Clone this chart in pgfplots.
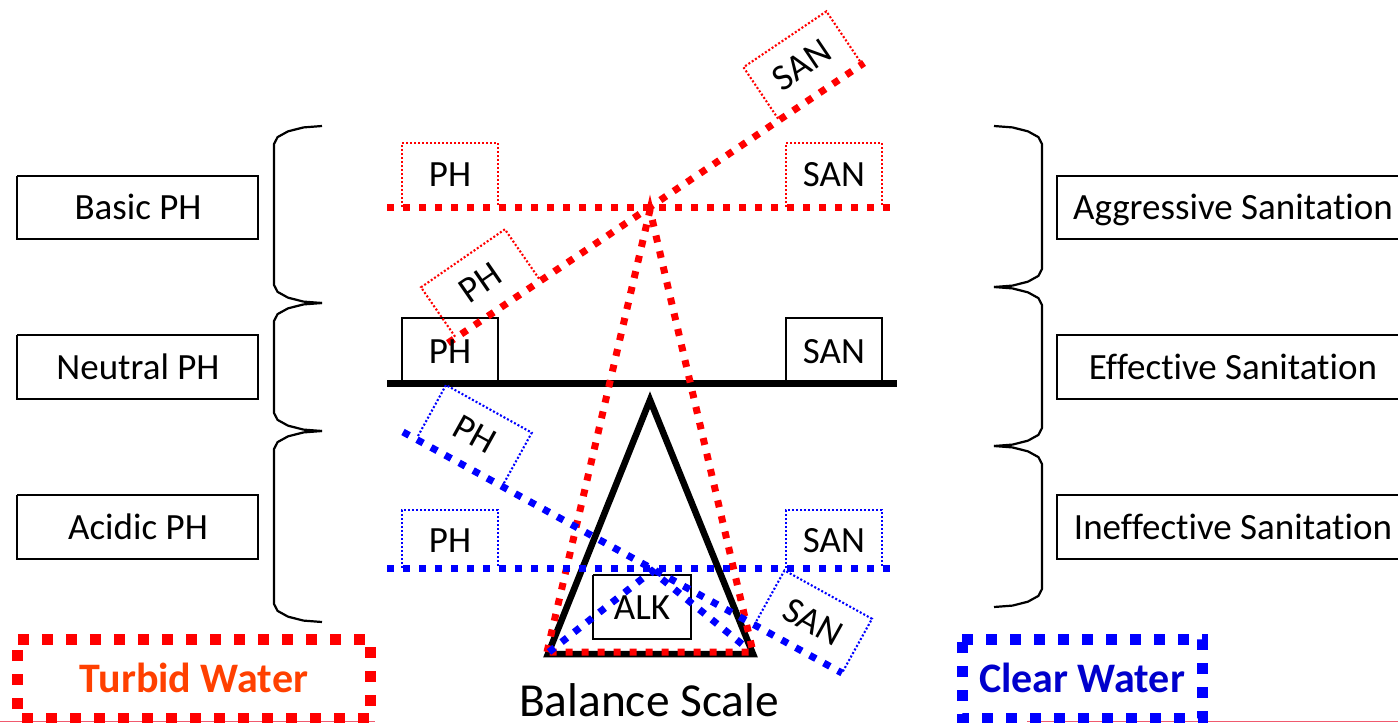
\documentclass[border=0pt]{standalone}
\usepackage{fontspec}
\setmainfont{Carlito}[Ligatures=NoCommon]
\usepackage{pgfplots}
\pgfplotsset{compat=1.18}
\definecolor{myred}{RGB}{255,0,0}
\definecolor{myblue}{RGB}{0,0,255}
\definecolor{turbid}{RGB}{255,64,0}
\definecolor{clearw}{RGB}{0,0,204}
\definecolor{pinkline}{RGB}{240,90,110}
\tikzset{
  thickdot/.style={line width=3.5pt, dash pattern=on 3.5pt off 4.5pt, line cap=butt},
  bigdot/.style={line width=5.5pt, dash pattern=on 5.5pt off 6.5pt, line cap=butt},
  thindot/.style={line width=1.05pt, dash pattern=on 1pt off 1pt, line cap=butt},
  brace/.style={black, line width=1.1pt, line join=round},
  lbl/.style={font=\fontsize{18.5}{20}\selectfont, anchor=base, inner sep=0pt},
  rlbl/.style={font=\fontsize{18.5}{20}\selectfont, anchor=center, inner sep=0pt},
}
\begin{document}
\begin{tikzpicture}
\useasboundingbox (0,0) rectangle (699pt,361.5pt);
\clip (0,0) rectangle (699pt,361.5pt);
\begin{axis}[
  at={(0,0)}, anchor=south west,
  width=699pt, height=361.5pt, scale only axis,
  xmin=0, xmax=1398, ymin=0, ymax=723, y dir=reverse,
  hide axis, clip=false,
]
% bottom thin line
\addplot[pinkline, line width=0.8pt] coordinates {(0,721.5) (375,721.5)};
\addplot[pinkline, line width=0.8pt] coordinates {(1027,721.5) (1398,721.5)};
% left braces
\addplot[brace] coordinates {(322,126) (303.6,127.4) (288.1,131.3) (277.6,137.1) (274,144) (274,285) (277.6,291.9) (288.1,297.7) (303.6,301.6) (322,303)};
\addplot[brace] coordinates {(322,303) (303.6,304.4) (288.1,308.3) (277.6,314.1) (274,321) (274,413) (277.6,419.9) (288.1,425.7) (303.6,429.6) (322,431)};
\addplot[brace] coordinates {(322,431) (303.6,432.4) (288.1,436.3) (277.6,442.1) (274,449) (274,604) (277.6,610.9) (288.1,616.7) (303.6,620.6) (322,622)};
% right braces
\addplot[brace] coordinates {(994,126) (1012.4,127.4) (1027.9,131.3) (1038.4,137.1) (1042,144) (1042,269) (1038.4,275.9) (1027.9,281.7) (1012.4,285.6) (994,287)};
\addplot[brace] coordinates {(994,287) (1012.4,288.4) (1027.9,292.3) (1038.4,298.1) (1042,305) (1042,428) (1038.4,434.9) (1027.9,440.7) (1012.4,444.6) (994,446)};
\addplot[brace] coordinates {(994,446) (1012.4,447.4) (1027.9,451.3) (1038.4,457.1) (1042,464) (1042,589) (1038.4,595.9) (1027.9,601.7) (1012.4,605.6) (994,607)};
% left boxes
\addplot[black, line width=1.2pt] coordinates {(17,176) (258,176) (258,239) (17,239) (17,176)};
\addplot[black, line width=1.2pt] coordinates {(17,335) (258,335) (258,399) (17,399) (17,335)};
\addplot[black, line width=1.2pt] coordinates {(17,495) (258,495) (258,559) (17,559) (17,495)};
% right boxes
\addplot[black, line width=1.2pt] coordinates {(1420,176) (1057,176) (1057,239) (1420,239)};
\addplot[black, line width=1.2pt] coordinates {(1420,335) (1057,335) (1057,399) (1420,399)};
\addplot[black, line width=1.2pt] coordinates {(1420,495) (1057,495) (1057,559) (1420,559)};
% water boxes
\addplot[myred, bigdot] coordinates {(18,639) (370,639) (370,718) (18,718) (18,639)};
\addplot[myblue, bigdot] coordinates {(962,639) (1202,639) (1202,718) (962,718) (962,639)};
% black scale
\addplot[black, line width=3.5pt] coordinates {(387,383) (897,383)};
\addplot[black, line width=3.25pt, line join=miter] coordinates {(548,654) (650,400) (753,654) (548,654)} -- cycle;
\addplot[black, line width=1.1pt] coordinates {(593,575) (691,575) (691,639) (593,639) (593,575)};
\addplot[black, line width=1.2pt] coordinates {(402,380) (402,318) (498,318) (498,380)};
\addplot[black, line width=1.2pt] coordinates {(786,380) (786,318) (882,318) (882,380)};
% thin dotted boxes red
\addplot[myred, thindot] coordinates {(402,207) (402,143) (498,143) (498,207)};
\addplot[myred, thindot] coordinates {(786,207) (786,143) (882,143) (882,207)};
\addplot[myred, thindot] coordinates {(455.1,336.7) (421.0,287.3) (504.9,229.3) (539.0,278.7)};
\addplot[myred, thindot] coordinates {(778.1,118.7) (743.5,67.25) (826.4,11.35) (861.0,62.75)};
% thin dotted boxes blue
\addplot[myblue, thindot] coordinates {(402,568) (402,510) (498,510) (498,568)};
\addplot[myblue, thindot] coordinates {(786,568) (786,510) (882,510) (882,568)};
\addplot[myblue, thindot] coordinates {(418,436) (446,385) (531.8,432.7) (503.8,483.4)};
\addplot[myblue, thindot] coordinates {(754.5,624.6) (784.5,570.4) (872,618.8) (842,673)};
% red thick dotted
\addplot[myred, thickdot] coordinates {(387,207) (890,207)};
\addplot[myred, thickdot] coordinates {(448,343) (864,63)};
\addplot[myred, thickdot] coordinates {(547,652) (650,210) (753,652) (547,652)};
% blue thick dotted
\addplot[myblue, thickdot] coordinates {(387,568) (890,568)};
\addplot[myblue, thickdot] coordinates {(403,432) (842,673)};
\addplot[myblue, thickdot] coordinates {(549,652) (652,571) (748,649)};
% texts
\node[lbl] at (axis cs:138,219) {Basic PH};
\node[lbl] at (axis cs:138,379) {Neutral PH};
\node[lbl] at (axis cs:138,539) {Acidic PH};
\node[lbl] at (axis cs:1233,219) {Aggressive Sanitation};
\node[lbl] at (axis cs:1233,379) {Effective Sanitation};
\node[lbl] at (axis cs:1233,539) {Ineffective Sanitation};
\node[lbl] at (axis cs:450,186) {PH};
\node[lbl] at (axis cs:834,186) {SAN};
\node[lbl] at (axis cs:450,363) {PH};
\node[lbl] at (axis cs:834,363) {SAN};
\node[lbl] at (axis cs:450,552) {PH};
\node[lbl] at (axis cs:834,552) {SAN};
\node[lbl] at (axis cs:642,619) {ALK};
\node[rlbl, rotate=34.6] at (axis cs:480,283) {PH};
\node[rlbl, rotate=34] at (axis cs:802,65) {SAN};
\node[rlbl, rotate=-29] at (axis cs:475,434) {PH};
\node[rlbl, rotate=-29] at (axis cs:813,622) {SAN};
\node[font=\fontsize{23.7}{26}\selectfont, anchor=base, inner sep=0pt] at (axis cs:649,716) {Balance Scale};
\node[font=\fontsize{21}{24}\selectfont\bfseries, text=turbid, anchor=base, inner sep=0pt] at (axis cs:194,692) {Turbid Water};
\node[font=\fontsize{21}{24}\selectfont\bfseries, text=clearw, anchor=base, inner sep=0pt] at (axis cs:1082,692) {Clear Water};
\end{axis}
\end{tikzpicture}
\end{document}
